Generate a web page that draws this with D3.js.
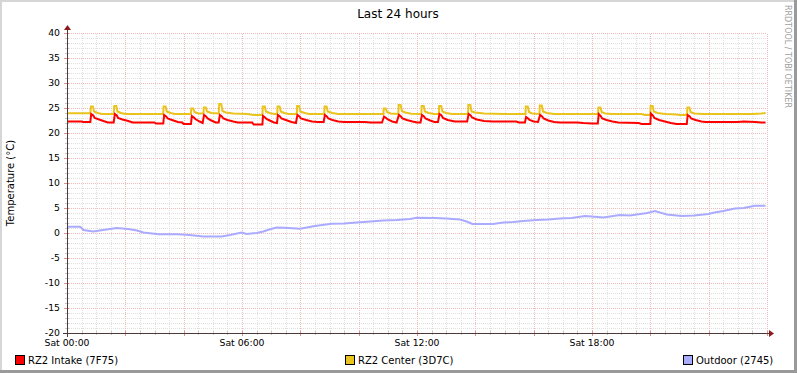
<!DOCTYPE html>
<html>
<head>
<meta charset="utf-8">
<script src="https://cdn.jsdelivr.net/npm/d3@7"></script>
<style>
  body { margin: 0; background: #fff; }
  svg text { font-family: "DejaVu Sans", sans-serif; }
</style>
</head>
<body>
<div id="chart"></div>
<script>
// values, time in hours since Sat 00:00
var title = "Last 24 hours";
var yTicks = [40, 35, 30, 25, 20, 15, 10, 5, 0, -5, -10, -15, -20];
var xLabels = [[0, "Sat 00:00"], [6, "Sat 06:00"], [12, "Sat 12:00"], [18, "Sat 18:00"]];
var seriesNames = ["RZ2 Intake (7F75)", "RZ2 Center (3D7C)", "Outdoor (2745)"];
var seriesColors = ["#ff0000", "#eac31c", "#aaaaff"];

var intake = [
  [0,22.3],[0.5,22.3],[0.55,22.2],[0.8,22.2],[0.83,23.8],[0.9,23.5],[0.95,23.0],[1.1,22.7],[1.3,22.3],[1.4,22.1],[1.6,22.1],
  [1.64,23.8],[1.71,23.5],[1.75,23.0],[1.9,22.7],[2.1,22.4],[2.25,22.1],[3.0,22.1],[3.05,21.9],[3.3,21.9],
  [3.33,23.6],[3.4,23.3],[3.45,22.9],[3.6,22.6],[3.8,22.2],[3.95,22.1],[4.0,21.8],[4.25,21.8],
  [4.28,23.4],[4.35,23.1],[4.4,22.8],[4.55,22.3],[4.65,22.0],
  [4.70,23.6],[4.77,23.3],[4.82,22.9],[4.95,22.5],[5.1,22.1],[5.2,22.1],
  [5.24,23.6],[5.31,23.3],[5.36,22.9],[5.5,22.6],[5.7,22.3],[5.85,22.1],[6.35,22.1],[6.4,21.7],[6.7,21.7],
  [6.72,23.4],[6.79,23.1],[6.84,22.8],[6.95,22.5],[7.1,22.1],[7.2,22.0],
  [7.23,23.6],[7.3,23.3],[7.35,22.9],[7.5,22.6],[7.7,22.2],[7.85,22.0],
  [7.9,23.6],[7.97,23.3],[8.02,22.9],[8.2,22.6],[8.4,22.3],[8.6,22.2],[8.8,22.2],
  [8.84,23.6],[8.91,23.3],[8.96,22.9],[9.1,22.6],[9.3,22.3],[9.5,22.2],[10.2,22.2],[10.4,22.1],[10.8,22.1],
  [10.87,23.3],[10.94,23.0],[11.0,22.7],[11.15,22.3],[11.3,22.1],
  [11.38,23.6],[11.45,23.3],[11.5,22.9],[11.65,22.6],[11.85,22.3],[12.0,22.1],[12.12,22.1],
  [12.17,23.6],[12.24,23.3],[12.29,22.9],[12.45,22.5],[12.6,22.2],[12.72,22.2],
  [12.77,23.8],[12.84,23.5],[12.89,23.0],[13.05,22.6],[13.3,22.3],[13.72,22.3],
  [13.77,23.8],[13.84,23.5],[13.89,23.1],[14.05,22.7],[14.3,22.4],[14.6,22.3],[15.4,22.3],[15.5,22.1],[15.7,22.1],
  [15.74,23.2],[15.81,22.9],[15.86,22.6],[16.0,22.3],[16.15,22.2],
  [16.22,23.6],[16.29,23.3],[16.34,22.9],[16.5,22.5],[16.7,22.2],[16.9,22.1],[17.5,22.1],[17.7,22.0],[18.0,21.9],[18.2,21.9],
  [18.23,23.8],[18.3,23.4],[18.35,22.9],[18.5,22.6],[18.7,22.3],[18.9,22.1],[19.6,22.0],[19.7,21.8],[20.0,21.8],
  [20.02,23.9],[20.09,23.5],[20.14,23.0],[20.3,22.6],[20.5,22.3],[20.7,22.0],[20.9,21.8],[21.25,21.8],
  [21.28,23.6],[21.35,23.3],[21.4,22.9],[21.55,22.6],[21.75,22.3],[21.9,22.2],[23.0,22.2],[23.2,22.3],[23.6,22.2],[23.8,22.1],[23.95,22.1]
];

var center = [
  [0,23.95],[0.8,23.95],[0.82,25.3],[0.89,25.3],[0.93,24.3],[1.05,24.0],[1.2,23.8],[1.6,23.8],
  [1.62,25.4],[1.69,25.4],[1.73,24.3],[1.85,24.0],[2.0,23.8],[3.3,23.8],
  [3.31,25.3],[3.38,25.3],[3.42,24.3],[3.55,24.0],[3.7,23.8],[4.25,23.8],
  [4.26,24.9],[4.33,24.9],[4.37,24.2],[4.5,23.9],[4.68,23.9],
  [4.69,25.1],[4.76,25.1],[4.8,24.3],[4.95,24.0],[5.2,23.9],
  [5.22,25.8],[5.29,25.8],[5.33,24.4],[5.45,24.1],[5.7,23.9],[6.2,23.8],[6.4,23.6],[6.7,23.6],
  [6.71,25.3],[6.78,25.3],[6.82,24.3],[6.95,24.0],[7.1,23.8],[7.21,23.8],
  [7.22,25.3],[7.29,25.3],[7.33,24.3],[7.45,24.0],[7.6,23.8],[7.88,23.8],
  [7.89,25.4],[7.96,25.4],[8.0,24.3],[8.15,24.0],[8.3,23.8],[8.82,23.8],
  [8.83,25.3],[8.9,25.3],[8.94,24.3],[9.1,24.0],[9.3,23.8],[10.85,23.8],
  [10.86,24.9],[10.93,24.9],[10.97,24.2],[11.1,23.9],[11.36,23.8],
  [11.37,25.6],[11.44,25.6],[11.48,24.4],[11.6,24.1],[11.8,23.85],[12.15,23.8],
  [12.16,25.4],[12.23,25.4],[12.27,24.3],[12.4,24.0],[12.6,23.8],[12.75,23.8],
  [12.76,25.4],[12.83,25.4],[12.87,24.3],[13.0,24.0],[13.2,23.8],[13.75,23.8],
  [13.76,25.6],[13.83,25.6],[13.87,24.3],[14.0,24.1],[14.3,23.9],[15.0,23.8],[15.72,23.8],
  [15.73,25.3],[15.8,25.3],[15.84,24.2],[15.95,23.9],[16.2,23.8],
  [16.21,25.5],[16.28,25.5],[16.32,24.3],[16.45,24.0],[16.7,23.8],[18.21,23.8],
  [18.22,25.1],[18.29,25.1],[18.33,24.2],[18.45,23.9],[18.7,23.8],[19.7,23.8],[19.8,23.6],[20.0,23.6],
  [20.01,25.4],[20.08,25.4],[20.12,24.3],[20.25,24.0],[20.5,23.8],[20.9,23.7],[21.0,23.6],[21.26,23.6],
  [21.27,25.1],[21.34,25.1],[21.38,24.2],[21.5,23.9],[21.8,23.8],[23.5,23.8],[23.8,23.9],[23.95,24.0]
];

var outdoor = [
  [0,1.27],[0.45,1.27],[0.56,0.6],[0.9,0.3],[1.24,0.6],[1.7,1.0],[2.1,0.8],[2.4,0.5],[2.62,0.1],[3.13,-0.25],
  [3.8,-0.25],[4.2,-0.4],[4.67,-0.7],[5.3,-0.7],[5.59,-0.4],[5.99,0.1],[6.16,-0.2],[6.5,0.0],[6.73,0.3],[6.96,0.75],
  [7.19,1.1],[7.6,1.0],[7.99,0.85],[8.5,1.4],[9.07,1.85],[9.5,1.9],[9.93,2.1],[10.4,2.3],[10.84,2.5],[11.3,2.6],
  [11.76,2.8],[11.99,3.05],[12.6,3.0],[13.0,2.9],[13.47,2.7],[13.7,2.3],[13.9,1.8],[14.6,1.8],[14.96,2.1],[15.3,2.2],
  [15.64,2.4],[16.1,2.6],[16.5,2.7],[16.9,2.9],[17.3,3.0],[17.76,3.4],[18.0,3.3],[18.39,3.1],[18.96,3.6],[19.3,3.5],
  [19.65,3.8],[19.9,4.0],[20.16,4.4],[20.56,3.7],[21.07,3.4],[21.5,3.5],[21.99,3.8],[22.2,4.1],[22.5,4.4],[22.9,4.9],
  [23.2,5.0],[23.59,5.45],[23.95,5.45]
];

var W = 797, H = 373;
var x = d3.scaleLinear().domain([0, 24]).range([67, 767]);
var y = d3.scaleLinear().domain([-20, 40]).range([333, 33]);

var svg = d3.select("#chart").append("svg")
    .attr("width", W)
    .attr("height", H);

// bevelled frame
svg.append("rect").attr("width", W).attr("height", H).attr("fill", "#9a9a9a");
svg.append("rect").attr("width", W - 3).attr("height", H - 3).attr("fill", "#d6d6d6");
svg.append("rect").attr("x", 2).attr("y", 2).attr("width", W - 5).attr("height", H - 5).attr("fill", "#fff");

var grid = svg.append("g").attr("shape-rendering", "crispEdges");
var minorColor = "#e0e0e0", majorColor = "#f0baba";

// minor horizontal grid, every degree
grid.selectAll(".hmin")
    .data(d3.range(-20, 41, 1).filter(function (d) { return d % 5 != 0; }))
    .enter().append("line")
    .attr("x1", x(0)).attr("x2", x(24))
    .attr("y1", function (d) { return Math.round(y(d)) + 0.5; })
    .attr("y2", function (d) { return Math.round(y(d)) + 0.5; })
    .attr("stroke", minorColor).attr("stroke-dasharray", "1,1");

// minor vertical grid, every 30 min
grid.selectAll(".vmin")
    .data(d3.range(0.5, 24.01, 0.5).filter(function (d) { return d % 2 != 0; }))
    .enter().append("line")
    .attr("y1", y(-20)).attr("y2", y(40))
    .attr("x1", function (d) { return Math.round(x(d)) + 0.5; })
    .attr("x2", function (d) { return Math.round(x(d)) + 0.5; })
    .attr("stroke", minorColor).attr("stroke-dasharray", "1,1");

// major grid
grid.selectAll(".hmaj")
    .data(yTicks.filter(function (d) { return d != -20; }))
    .enter().append("line")
    .attr("x1", x(0)).attr("x2", x(24))
    .attr("y1", function (d) { return Math.round(y(d)) + 0.5; })
    .attr("y2", function (d) { return Math.round(y(d)) + 0.5; })
    .attr("stroke", majorColor).attr("stroke-dasharray", "1,1");

grid.selectAll(".vmaj")
    .data(d3.range(2, 24.01, 2))
    .enter().append("line")
    .attr("y1", y(-20)).attr("y2", y(40))
    .attr("x1", function (d) { return Math.round(x(d)) + 0.5; })
    .attr("x2", function (d) { return Math.round(x(d)) + 0.5; })
    .attr("stroke", majorColor).attr("stroke-dasharray", "1,1");

// small ticks on the axes
grid.selectAll(".ytick")
    .data(d3.range(-20, 41, 1))
    .enter().append("line")
    .attr("x1", function (d) { return d % 5 == 0 ? x(0) - 3 : x(0) - 2; })
    .attr("x2", x(0) + 2)
    .attr("y1", function (d) { return Math.round(y(d)) + 0.5; })
    .attr("y2", function (d) { return Math.round(y(d)) + 0.5; })
    .attr("stroke", function (d) { return d % 5 == 0 ? "#e09090" : "#c8c8c8"; });

grid.selectAll(".xtick")
    .data(d3.range(0.5, 24.01, 0.5))
    .enter().append("line")
    .attr("y1", y(-20) - 2)
    .attr("y2", function (d) { return d % 2 == 0 ? y(-20) + 3 : y(-20) + 2; })
    .attr("x1", function (d) { return Math.round(x(d)) + 0.5; })
    .attr("x2", function (d) { return Math.round(x(d)) + 0.5; })
    .attr("stroke", function (d) { return d % 2 == 0 ? "#e09090" : "#c8c8c8"; });

// data lines
var line = d3.line()
    .x(function (d) { return x(d[0]); })
    .y(function (d) { return y(d[1]); });

[outdoor, center, intake].forEach(function (s, i) {
    svg.append("path")
        .datum(s)
        .attr("d", line)
        .attr("fill", "none")
        .attr("stroke", seriesColors[2 - i])
        .attr("stroke-width", 2)
        .attr("stroke-linejoin", "miter");
});

// axes with arrows
var axisColor = "#4a3a3a";
svg.append("line").attr("shape-rendering", "crispEdges")
    .attr("x1", x(0) - 4).attr("x2", x(24) + 2)
    .attr("y1", Math.round(y(-20)) + 0.5).attr("y2", Math.round(y(-20)) + 0.5)
    .attr("stroke", axisColor);
svg.append("line").attr("shape-rendering", "crispEdges")
    .attr("x1", Math.round(x(0)) + 0.5).attr("x2", Math.round(x(0)) + 0.5)
    .attr("y1", y(-20) + 4).attr("y2", y(40) - 3)
    .attr("stroke", axisColor);
svg.append("path")
    .attr("d", "M" + (x(24) + 2) + "," + (y(-20) - 3) + "L" + (x(24) + 7) + "," + (y(-20) + 0.5) + "L" + (x(24) + 2) + "," + (y(-20) + 4) + "Z")
    .attr("fill", "#8b1a1a");
svg.append("path")
    .attr("d", "M" + (x(0) - 3) + "," + (y(40) - 3) + "L" + (x(0) + 0.5) + "," + (y(40) - 8) + "L" + (x(0) + 4) + "," + (y(40) - 3) + "Z")
    .attr("fill", "#8b1a1a");

// tick labels
svg.selectAll(".ylab")
    .data(yTicks)
    .enter().append("text")
    .attr("x", 60)
    .attr("y", function (d) { return y(d) + 3; })
    .attr("text-anchor", "end")
    .style("font-size", "9.3px")
    .attr("fill", "#000")
    .text(function (d) { return d; });

svg.selectAll(".xlab")
    .data(xLabels)
    .enter().append("text")
    .attr("x", function (d) { return x(d[0]); })
    .attr("y", 346)
    .attr("text-anchor", "middle")
    .style("font-size", "9.3px")
    .text(function (d) { return d[1]; });

// titles
svg.append("text")
    .attr("x", 398).attr("y", 18)
    .attr("text-anchor", "middle")
    .style("font-size", "12px")
    .text(title);

svg.append("text")
    .attr("transform", "translate(14,183) rotate(-90)")
    .attr("text-anchor", "middle")
    .style("font-size", "10px")
    .text("Temperature (°C)");

svg.append("text")
    .attr("transform", "translate(785,5) rotate(90)")
    .attr("text-anchor", "start")
    .style("font-size", "8px")
    .attr("fill", "#a0a0a0")
    .text("RRDTOOL / TOBI OETIKER");

// legend
var legendX = [15, 345, 683];
var legend = svg.selectAll(".legend")
    .data(seriesNames)
    .enter().append("g")
    .attr("transform", function (d, i) { return "translate(" + legendX[i] + ",355)"; });

legend.append("rect")
    .attr("x", 0.5).attr("y", 0.5)
    .attr("width", 9).attr("height", 9)
    .attr("fill", function (d, i) { return seriesColors[i]; })
    .attr("stroke", "#000")
    .attr("shape-rendering", "crispEdges");

legend.append("text")
    .attr("x", 13).attr("y", 8.5)
    .style("font-size", "10px")
    .text(function (d) { return d; });
</script>
</body>
</html>
